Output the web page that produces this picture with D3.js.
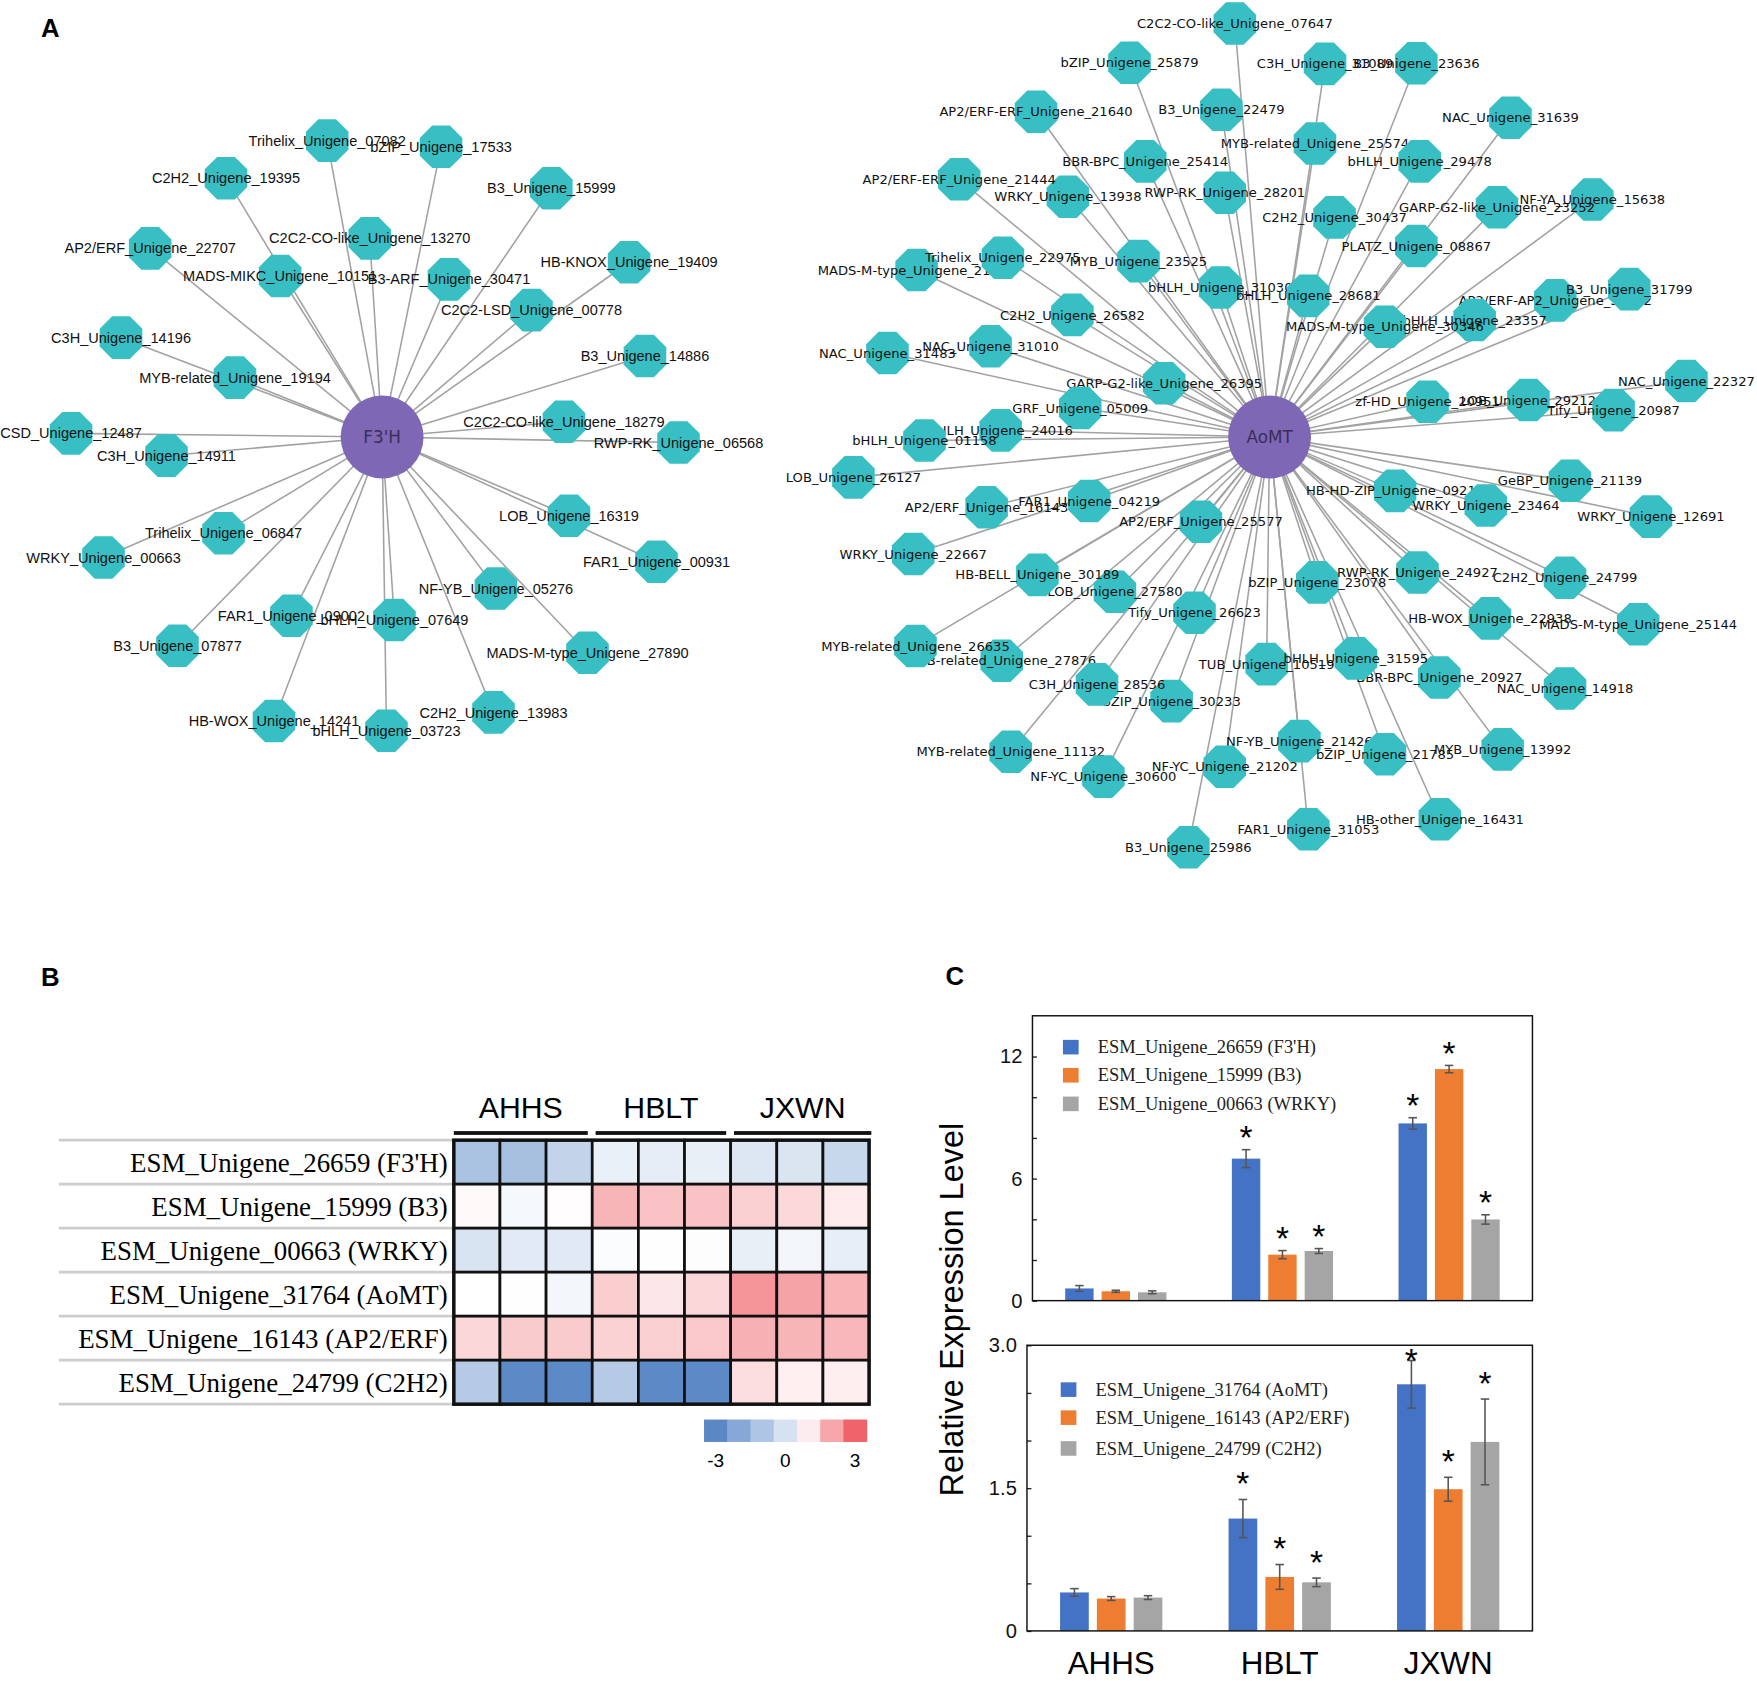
<!DOCTYPE html>
<html>
<head>
<meta charset="utf-8">
<script src="https://cdn.jsdelivr.net/npm/d3@7"></script>
<style>
  body { margin: 0; background: #fff; }
  svg { display: block; }
</style>
</head>
<body>
<svg id="fig" width="1757" height="1681" viewBox="0 0 1568 1500" preserveAspectRatio="none"></svg>
<script>
// ---------------- data ----------------
// panel A, left network (hub F3'H)
const leftHubName = "F3'H";
const leftGenes = [
  "Trihelix_Unigene_07082", "bZIP_Unigene_17533", "C2H2_Unigene_19395", "B3_Unigene_15999",
  "C2C2-CO-like_Unigene_13270", "AP2/ERF_Unigene_22707", "MADS-MIKC_Unigene_10151", "B3-ARF_Unigene_30471",
  "HB-KNOX_Unigene_19409", "C2C2-LSD_Unigene_00778", "C3H_Unigene_14196", "B3_Unigene_14886",
  "MYB-related_Unigene_19194", "RWP-RK_Unigene_06568", "C2C2-CO-like_Unigene_18279", "CSD_Unigene_12487",
  "C3H_Unigene_14911", "Trihelix_Unigene_06847", "WRKY_Unigene_00663", "LOB_Unigene_16319",
  "FAR1_Unigene_00931", "NF-YB_Unigene_05276", "FAR1_Unigene_09002", "bHLH_Unigene_07649",
  "B3_Unigene_07877", "MADS-M-type_Unigene_27890", "HB-WOX_Unigene_14241", "bHLH_Unigene_03723",
  "C2H2_Unigene_13983"
];
// layout of the drawing (hub first)
const leftLayout = [[341, 390],
  [292, 125.5], [393.6, 131], [201.7, 159], [492, 168], [330, 212.7], [134, 221.6], [250, 246.3],
  [400.7, 249.3], [561.4, 234], [474.3, 276.7], [108, 301.3], [575.6, 317.7], [209.7, 337],
  [605.5, 394.8], [503.3, 376.3], [63.4, 386.7], [148.6, 406.6], [199.5, 475.9], [92.4, 497.4],
  [507.8, 460.2], [585.9, 501.3], [442.6, 525.1], [260.1, 549.4], [352, 553.3], [158.4, 576.2],
  [524.3, 582.4], [244.5, 643.4], [344.9, 652.1], [440.4, 635.7]
];

// panel A, right network (hub AoMT)
const rightHubName = "AoMT";
const rightGenes = [
  "C2C2-CO-like_Unigene_07647", "bZIP_Unigene_25879", "C3H_Unigene_31089", "B3_Unigene_23636",
  "AP2/ERF-ERF_Unigene_21640", "B3_Unigene_22479", "MYB-related_Unigene_25574", "bHLH_Unigene_29478",
  "NAC_Unigene_31639", "BBR-BPC_Unigene_25414", "WRKY_Unigene_13938", "AP2/ERF-ERF_Unigene_21444",
  "RWP-RK_Unigene_28201", "C2H2_Unigene_30437", "NF-YA_Unigene_15638", "GARP-G2-like_Unigene_23252",
  "PLATZ_Unigene_08867", "MADS-M-type_Unigene_21975", "Trihelix_Unigene_22975", "MYB_Unigene_23525",
  "bHLH_Unigene_31030", "bHLH_Unigene_28681", "C2H2_Unigene_26582", "AP2/ERF-AP2_Unigene_30912",
  "B3_Unigene_31799", "bHLH_Unigene_23357", "MADS-M-type_Unigene_30346", "NAC_Unigene_31483",
  "NAC_Unigene_31010", "GARP-G2-like_Unigene_26395", "GRF_Unigene_05009", "zf-HD_Unigene_20951",
  "LOB_Unigene_29212", "NAC_Unigene_22327", "Tify_Unigene_20987", "bHLH_Unigene_24016",
  "bHLH_Unigene_01158", "LOB_Unigene_26127", "AP2/ERF_Unigene_16143", "FAR1_Unigene_04219",
  "AP2/ERF_Unigene_25577", "HB-HD-ZIP_Unigene_09211", "WRKY_Unigene_23464", "GeBP_Unigene_21139",
  "WRKY_Unigene_12691", "WRKY_Unigene_22667", "LOB_Unigene_27580", "HB-BELL_Unigene_30189",
  "bZIP_Unigene_23078", "RWP-RK_Unigene_24927", "C2H2_Unigene_24799", "Tify_Unigene_26623",
  "HB-WOX_Unigene_22938", "MADS-M-type_Unigene_25144", "MYB-related_Unigene_27876", "MYB-related_Unigene_26635",
  "TUB_Unigene_10519", "BBR-BPC_Unigene_20927", "bHLH_Unigene_31595", "NAC_Unigene_14918",
  "bZIP_Unigene_30233", "C3H_Unigene_28536", "MYB-related_Unigene_11132", "NF-YB_Unigene_21426",
  "bZIP_Unigene_21785", "MYB_Unigene_13992", "NF-YC_Unigene_30600", "NF-YC_Unigene_21202",
  "HB-other_Unigene_16431", "FAR1_Unigene_31053", "B3_Unigene_25986"
];
const rightLayout = [[1133, 390],
  [1102, 21], [1008, 56], [1182.5, 57], [1264, 56.5], [924.6, 99.7], [1090, 98], [1173.5, 128],
  [1267, 144], [1348, 105], [1022, 144], [953, 175.5], [856, 160], [1093, 172], [1191, 194],
  [1421, 178], [1336, 185], [1264, 219.5], [818, 241], [895, 230], [1016, 233], [1089, 256.5],
  [1167.6, 264], [957, 281], [1388, 268], [1454, 258], [1316, 285.6], [1236, 291.5], [792, 315],
  [884, 309], [1039, 342], [964, 364], [1274, 358.5], [1364, 357], [1505, 340], [1440, 366],
  [893, 384], [825, 393], [761.6, 426], [880.5, 452.7], [972, 447], [1071.8, 465.5], [1245, 438],
  [1326, 451], [1401, 429], [1473.4, 461], [815, 494.4], [995, 528], [925.8, 513], [1175.6, 519.7],
  [1265, 510.8], [1396.7, 515.5], [1066, 546.8], [1329.7, 551.8], [1462, 557], [894, 589.6],
  [817, 576.5], [1130.4, 592.6], [1284.5, 604.5], [1210, 587.5], [1396.7, 614.3], [1045.6, 625.6],
  [979, 610.7], [902, 670.8], [1159.6, 661.3], [1236, 673], [1341, 668.7], [984.7, 693],
  [1093, 684.2], [1285, 731], [1167.6, 740], [1060.5, 756]
];

// panel B, heatmap
const hmGroups = ["AHHS", "HBLT", "JXWN"];
const hmRows = [
  "ESM_Unigene_26659 (F3'H)", "ESM_Unigene_15999 (B3)", "ESM_Unigene_00663 (WRKY)",
  "ESM_Unigene_31764 (AoMT)", "ESM_Unigene_16143 (AP2/ERF)", "ESM_Unigene_24799 (C2H2)"
];
const hmValues = [
  [-1.57, -1.61, -1.10, -0.38, -0.46, -0.42, -0.62, -0.66, -1.02],
  [0.12, -0.16, 0.04, 1.42, 1.15, 1.17, 0.92, 0.73, 0.38],
  [-0.70, -0.53, -0.57, -0.07, -0.02, -0.04, -0.40, -0.24, -0.44],
  [0.00, -0.02, -0.22, 0.96, 0.48, 0.79, 2.04, 1.77, 1.44],
  [0.77, 1.00, 1.00, 0.87, 0.92, 1.06, 1.52, 1.42, 1.37],
  [-1.37, -3.00, -3.00, -1.37, -3.00, -3.00, 0.65, 0.29, 0.31]
];
const legendColors = ["#5b87c5", "#87a7d7", "#aec5e5", "#d6e1f1", "#fcebef", "#f6a5ab", "#f0636a"];
const legendTicks = [[0, "-3"], [3, "0"], [6, "3"]];

// panel C, bar charts (rows = series, columns = sites)
const sites = ["AHHS", "HBLT", "JXWN"];
const topSeries = ["ESM_Unigene_26659 (F3'H)", "ESM_Unigene_15999 (B3)", "ESM_Unigene_00663 (WRKY)"];
const topMeans = [[0.60, 6.98, 8.71], [0.46, 2.26, 11.38], [0.41, 2.44, 3.99]];
const topErrors = [[0.14, 0.44, 0.28], [0.05, 0.20, 0.18], [0.07, 0.12, 0.23]];
const topSig = [[0, 1, 1], [0, 1, 1], [0, 1, 1]];
const bottomSeries = ["ESM_Unigene_31764 (AoMT)", "ESM_Unigene_16143 (AP2/ERF)", "ESM_Unigene_24799 (C2H2)"];
const bottomMeans = [[0.404, 1.18, 2.59], [0.34, 0.567, 1.488], [0.35, 0.51, 1.985]];
const bottomErrors = [[0.04, 0.20, 0.25], [0.02, 0.13, 0.125], [0.02, 0.045, 0.45]];
const bottomSig = [[0, 1, 1], [0, 1, 1], [0, 1, 1]];
const seriesColors = ["#4472c4", "#ed7d31", "#a5a5a5"];

// ---------------- drawing ----------------
const svg = d3.select("#fig");
const sans = "'Liberation Sans', Arial, sans-serif";
const serif = "'Liberation Serif', 'Times New Roman', serif";

//panel letters
[["A", 45, 25], ["B", 45, 871.5], ["C", 852, 871]].forEach(([t, x, y]) => {
  svg.append("text").text(t).attr("x", x).attr("y", y).attr("dy", "0.35em")
    .attr("text-anchor", "middle").style("font", `bold 23px ${sans}`);
});

function octagon(r) {
  const R = r / Math.cos(Math.PI / 8);
  return d3.range(8).map(k => {
    const a = Math.PI / 8 + k * Math.PI / 4;
    return [R * Math.cos(a), R * Math.sin(a)].join(",");
  }).join(" ");
}

function drawNetwork(hubName, genes, layout, font) {
  const g = svg.append("g");
  const hub = {x: layout[0][0], y: layout[0][1]};
  const nodes = genes.map((name, i) => ({name, x: layout[i + 1][0], y: layout[i + 1][1]}));

  g.append("g").selectAll("line").data(nodes).join("line")
    .attr("x1", d => d.x).attr("y1", d => d.y)
    .attr("x2", hub.x).attr("y2", hub.y)
    .attr("stroke", "#a2a2a2").attr("stroke-width", 1.4);

  //each node with its label, in drawing order (later ones cover earlier labels)
  const ng = g.append("g").selectAll("g").data(nodes).join("g")
    .attr("transform", d => `translate(${d.x},${d.y})`);
  ng.append("polygon").attr("points", octagon(19)).attr("fill", "#38bfc4");
  ng.append("text").text(d => d.name)
    .attr("text-anchor", "middle").attr("dy", "0.35em")
    .style("font", font).attr("fill", "#111");

  g.append("circle").attr("cx", hub.x).attr("cy", hub.y).attr("r", 37).attr("fill", "#7e68b6");
  g.append("text").text(hubName).attr("x", hub.x).attr("y", hub.y).attr("dy", "0.36em")
    .attr("text-anchor", "middle").attr("fill", "#3b2d57")
    .style("font", "15px 'DejaVu Sans', sans-serif");
}

drawNetwork(leftHubName, leftGenes, leftLayout, `13px ${sans}`);
drawNetwork(rightHubName, rightGenes, rightLayout, "11.7px 'DejaVu Sans', sans-serif");

// ---- heatmap ----
const hm = svg.append("g");
const cols = d3.range(9);
const hx = d3.scaleBand().domain(cols).range([405, 775.6]);
const hy = d3.scaleBand().domain(d3.range(hmRows.length)).range([1017.4, 1253]);
const hcolor = d3.scaleLinear().domain([-3, 0, 3]).range(["#5b8ac6", "#ffffff", "#f0636a"]).clamp(true);

//light row guides on the left
hm.append("g").selectAll("line").data(d3.range(hmRows.length + 1)).join("line")
  .attr("x1", 52.5).attr("x2", 405)
  .attr("y1", i => 1017.4 + i * hy.step()).attr("y2", i => 1017.4 + i * hy.step())
  .attr("stroke", "#cdcdcd").attr("stroke-width", 2.4);

hm.append("g").selectAll("text").data(hmRows).join("text")
  .text(d => d)
  .attr("x", 399.5).attr("y", (d, i) => hy(i) + hy.bandwidth() / 2).attr("dy", "0.35em")
  .attr("text-anchor", "end")
  .style("font", `24px ${serif}`);

const cells = hmValues.flatMap((row, r) => row.map((v, c) => ({r, c, v})));
hm.append("g").selectAll("rect").data(cells).join("rect")
  .attr("x", d => hx(d.c)).attr("y", d => hy(d.r))
  .attr("width", hx.bandwidth()).attr("height", hy.bandwidth())
  .attr("fill", d => hcolor(d.v))
  .attr("stroke", "#111").attr("stroke-width", 2.4);
hm.append("rect").attr("x", 405).attr("y", 1017.4).attr("width", 370.6).attr("height", 235.6)
  .attr("fill", "none").attr("stroke", "#111").attr("stroke-width", 3);

//group header bars
hmGroups.forEach((name, gi) => {
  const x0 = hx(gi * 3) + (gi ? 3 : 0), x1 = hx(gi * 3 + 2) + hx.bandwidth() - (gi < 2 ? 4 : -2);
  hm.append("rect").attr("x", x0).attr("y", 1009.3).attr("width", x1 - x0).attr("height", 3.4).attr("fill", "#111");
  hm.append("text").text(name).attr("x", (x0 + x1) / 2).attr("y", 997.8)
    .attr("text-anchor", "middle").style("font", `27px ${sans}`);
});

//colour key
const lx = d3.scaleBand().domain(d3.range(legendColors.length)).range([628.3, 773.4]);
hm.append("g").selectAll("rect").data(legendColors).join("rect")
  .attr("x", (d, i) => lx(i)).attr("y", 1266.7)
  .attr("width", lx.bandwidth() + 0.5).attr("height", 20).attr("fill", d => d);
hm.append("g").selectAll("text").data(legendTicks).join("text")
  .text(d => d[1])
  .attr("x", d => lx(d[0]) + lx.bandwidth() / 2).attr("y", 1309)
  .attr("text-anchor", "middle").style("font", `17px ${sans}`);

// ---- bar charts ----
function drawBars(opt) {
  const g = svg.append("g");
  const x0 = d3.scaleBand().domain(sites).range(opt.xr);
  const x1 = d3.scaleBand().domain(d3.range(3)).range([0, x0.bandwidth()])
    .paddingInner(0.22).paddingOuter(0.9);
  const y = d3.scaleLinear().domain(opt.domain).range(opt.yr);

  const bars = opt.means.flatMap((row, s) => row.map((m, k) => ({
    s, site: sites[k], m, e: opt.errors[s][k], sig: opt.sig[s][k]
  })));

  g.selectAll("rect.bar").data(bars).join("rect").attr("class", "bar")
    .attr("x", d => x0(d.site) + x1(d.s)).attr("width", x1.bandwidth())
    .attr("y", d => y(d.m)).attr("height", d => y(0) - y(d.m))
    .attr("fill", d => seriesColors[d.s]);

  //error bars
  const eb = g.selectAll("g.err").data(bars).join("g").attr("class", "err")
    .attr("transform", d => `translate(${x0(d.site) + x1(d.s) + x1.bandwidth() / 2},0)`);
  eb.append("line").attr("y1", d => y(d.m - d.e)).attr("y2", d => y(d.m + d.e));
  eb.append("line").attr("x1", -3.8).attr("x2", 3.8).attr("y1", d => y(d.m + d.e)).attr("y2", d => y(d.m + d.e));
  eb.append("line").attr("x1", -3.8).attr("x2", 3.8).attr("y1", d => y(d.m - d.e)).attr("y2", d => y(d.m - d.e));
  eb.selectAll("line").attr("stroke", "#555").attr("stroke-width", 1.4);

  //significance marks
  g.selectAll("text.sig").data(bars.filter(d => d.sig)).join("text").attr("class", "sig")
    .text("*")
    .attr("x", d => x0(d.site) + x1(d.s) + x1.bandwidth() / 2)
    .attr("y", d => Math.max(y(d.m + d.e) - opt.astGap, opt.yr[1] + 7) + 17)
    .attr("text-anchor", "middle").style("font", `30px ${sans}`);

  //axis and frame
  const axis = d3.axisLeft(y).tickValues(opt.ticks).tickSizeInner(-4).tickSizeOuter(0).tickPadding(9)
    .tickFormat(v => opt.labels.includes(v) ? opt.fmt(v) : "");
  const ag = g.append("g").attr("transform", `translate(${opt.xr[0]},0)`).call(axis);
  ag.select(".domain").remove();
  ag.selectAll("line").attr("stroke", "#222").attr("stroke-width", 1.2);
  ag.selectAll("text").style("font", `18px ${sans}`).attr("fill", "#111");
  g.append("rect").attr("x", opt.xr[0]).attr("y", opt.yr[1])
    .attr("width", opt.xr[1] - opt.xr[0]).attr("height", opt.yr[0] - opt.yr[1])
    .attr("fill", "none").attr("stroke", "#111").attr("stroke-width", 1.3);

  //legend
  opt.series.forEach((name, s) => {
    const cy = opt.legendY[s];
    g.append("rect").attr("x", opt.legendX).attr("y", cy - 6.5).attr("width", 14).attr("height", 13)
      .attr("fill", seriesColors[s]);
    g.append("text").text(name).attr("x", opt.legendX + 31).attr("y", cy).attr("dy", "0.33em")
      .style("font", `16.5px ${serif}`).attr("fill", "#222");
  });
  return x0;
}

drawBars({
  xr: [921.4, 1367.6], yr: [1160.6, 906.4], domain: [0, 14],
  ticks: d3.range(0, 13, 2), labels: [0, 6, 12], fmt: d3.format("d"),
  means: topMeans, errors: topErrors, sig: topSig, series: topSeries,
  legendX: 948.6, legendY: [934.4, 959.5, 985], astGap: 17.5
});
const xb = drawBars({
  xr: [916.5, 1367.6], yr: [1455.3, 1200.4], domain: [0, 3],
  ticks: d3.range(0, 3.01, 0.5), labels: [0, 1.5, 3], fmt: v => v === 0 ? "0" : d3.format(".1f")(v),
  means: bottomMeans, errors: bottomErrors, sig: bottomSig, series: bottomSeries,
  legendX: 946.6, legendY: [1240, 1265, 1292.5], astGap: 21
});

svg.append("g").selectAll("text").data(sites).join("text")
  .text(d => d)
  .attr("x", d => xb(d) + xb.bandwidth() / 2).attr("y", 1494)
  .attr("text-anchor", "middle").style("font", `28px ${sans}`);

svg.append("text").text("Relative Expression Level")
  .attr("transform", "translate(859,1168.6) rotate(-90)")
  .attr("text-anchor", "middle").style("font", `29px ${sans}`);
</script>
</body>
</html>
